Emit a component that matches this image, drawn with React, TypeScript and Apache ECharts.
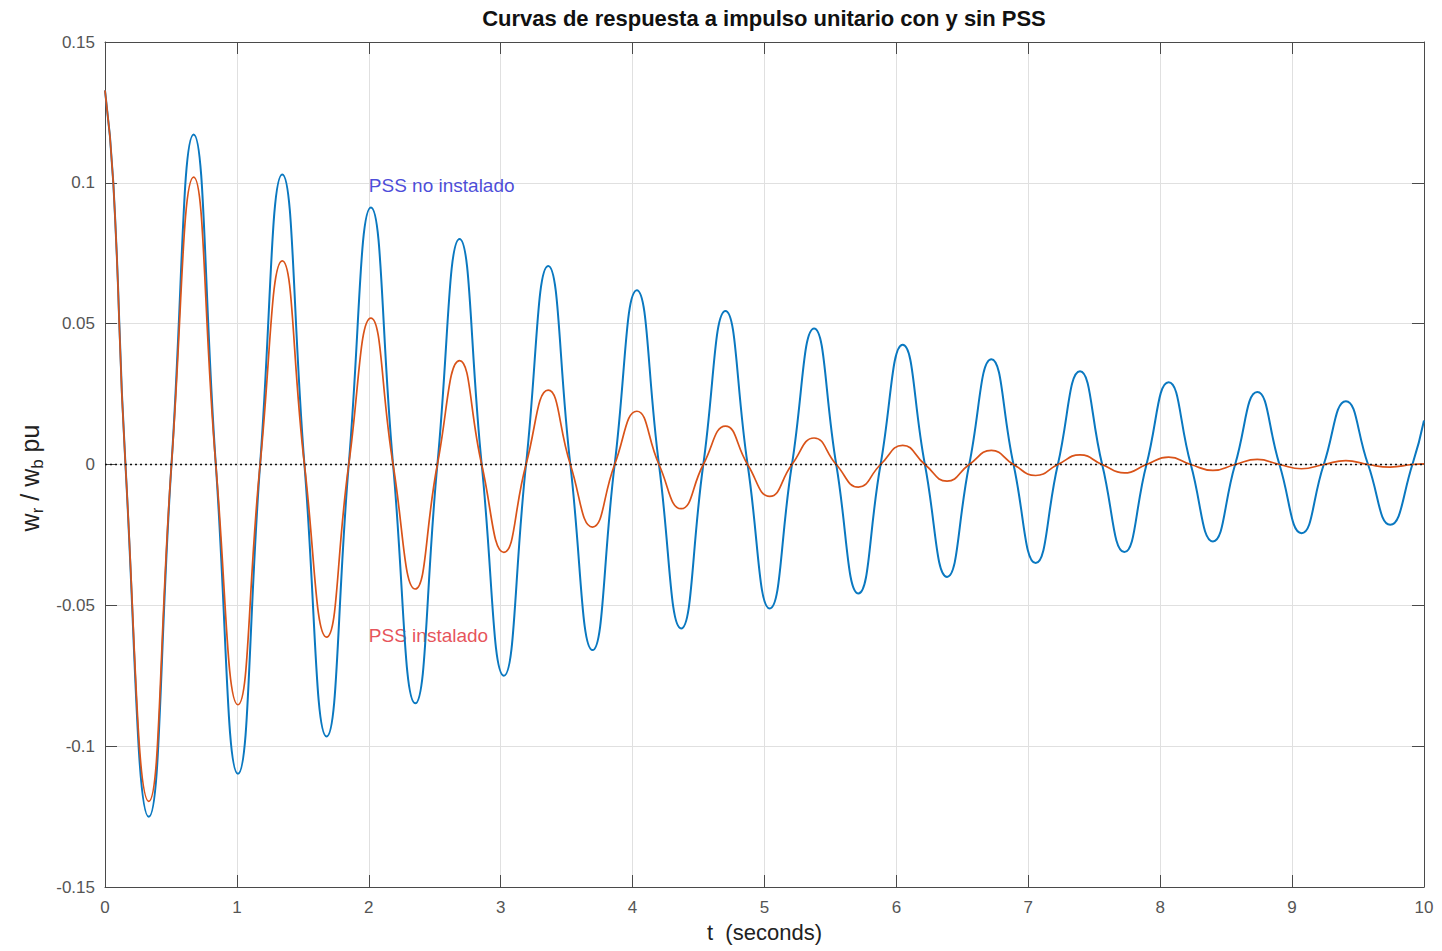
import React, { useEffect, useRef } from "react";
import * as echarts from "echarts";

// Time instants (s): start, peaks, troughs and zero crossings of the response
const timeS = [
  0, 0.063, 0.155, 0.332, 0.504, 0.672, 0.84, 1.008, 1.176, 1.344, 1.512, 1.68,
  1.848, 2.016, 2.184, 2.352, 2.52, 2.688, 2.856, 3.024, 3.192, 3.36, 3.528,
  3.696, 3.864, 4.032, 4.2, 4.368, 4.536, 4.704, 4.872, 5.04, 5.208, 5.376,
  5.544, 5.712, 5.88, 6.048, 6.216, 6.384, 6.552, 6.72, 6.888, 7.056, 7.224,
  7.392, 7.56, 7.728, 7.896, 8.064, 8.232, 8.4, 8.568, 8.736, 8.904, 9.072,
  9.24, 9.408, 9.576, 9.744, 9.912, 10,
];

// w_r / w_b (pu) without PSS
const sinPss = [
  0.1328, 0.1, 0, -0.1251, 0, 0.1172, 0, -0.1098, 0, 0.103, 0, -0.0966, 0,
  0.0912, 0, -0.0848, 0, 0.0801, 0, -0.075, 0, 0.0705, 0, -0.0659, 0, 0.0619,
  0, -0.0582, 0, 0.0545, 0, -0.0511, 0, 0.0483, 0, -0.0458, 0, 0.0425, 0,
  -0.0399, 0, 0.0374, 0, -0.035, 0, 0.0331, 0, -0.0311, 0, 0.0292, 0, -0.0273,
  0, 0.0257, 0, -0.0244, 0, 0.0225, 0, -0.0214, 0, 0.0156,
];

// w_r / w_b (pu) with PSS
const conPss = [
  0.1328, 0.1, 0, -0.1196, 0, 0.102, 0, -0.0853, 0, 0.0723, 0, -0.0613, 0,
  0.052, 0, -0.0442, 0, 0.0369, 0, -0.0312, 0, 0.0264, 0, -0.0222, 0, 0.0189,
  0, -0.0157, 0, 0.0136, 0, -0.0113, 0, 0.0094, 0, -0.008, 0, 0.0068, 0,
  -0.0059, 0, 0.005, 0, -0.0039, 0, 0.0034, 0, -0.003, 0, 0.0026, 0, -0.0021,
  0, 0.0018, 0, -0.0015, 0, 0.0014, 0, -0.0009, 0, 0.0002,
];

const xTickLabels = ["0", "1", "2", "3", "4", "5", "6", "7", "8", "9", "10"];
const yTickValues = [-0.15, -0.1, -0.05, 0, 0.05, 0.1, 0.15];
const yTickLabels = ["-0.15", "-0.1", "-0.05", "0", "0.05", "0.1", "0.15"];

// Text annotations anchored in data coordinates
const noInstaladoAt = [2, 0.1];
const instaladoAt = [2, -0.06];

const FONT = "'Liberation Sans', Arial, Helvetica, sans-serif";
const BLUE = "#0a78c0";
const ORANGE = "#d95319";
const FRAME = "#4a4a4a";
const GRID = "#e0e0e0";
const TICK_TEXT = "#555555";

export default function App() {
  const ref = useRef<HTMLDivElement>(null);

  useEffect(() => {
    if (!ref.current) return;
    const chart = echarts.init(ref.current, undefined, { renderer: "svg" });

    const yLabel = (v: number) => {
      const i = yTickValues.findIndex((t) => Math.abs(t - v) < 1e-9);
      return i >= 0 ? yTickLabels[i] : "";
    };
    const xLabel = (v: number) => xTickLabels[Math.round(v)] ?? "";

    const frameAxis = {
      axisLine: { show: true, onZero: false, lineStyle: { color: FRAME, width: 1 } },
      axisTick: { show: true, inside: true, length: 12, lineStyle: { color: FRAME, width: 1 } },
    };

    chart.setOption({
      animation: false,
      backgroundColor: "#ffffff",
      grid: { left: 105, right: 18, top: 42, bottom: 64, containLabel: false },
      graphic: [
        {
          type: "text",
          x: 764,
          y: 18,
          style: {
            text: "Curvas de respuesta a impulso unitario con y sin PSS",
            font: `bold 22px ${FONT}`,
            fill: "#111",
            align: "center",
            verticalAlign: "middle",
          },
        },
        {
          type: "text",
          x: 30,
          y: 478,
          rotation: Math.PI / 2,
          style: {
            text: "{m|w}{s|r}{m| / w}{s|b}{m| pu}",
            align: "center",
            verticalAlign: "middle",
            rich: {
              m: { fontSize: 25, fontFamily: FONT, fill: "#222", lineHeight: 32, verticalAlign: "middle" },
              s: { fontSize: 17, fontFamily: FONT, fill: "#222", lineHeight: 17, verticalAlign: "bottom" },
            },
          },
        },
      ],
      xAxis: [
        {
          type: "value",
          position: "bottom",
          min: 0,
          max: 10,
          interval: 1,
          ...frameAxis,
          axisLabel: {
            show: true,
            color: TICK_TEXT,
            fontSize: 17,
            fontFamily: FONT,
            margin: 12,
            showMinLabel: true,
            showMaxLabel: true,
            formatter: xLabel,
          },
          splitLine: { show: true, lineStyle: { color: GRID, width: 1 } },
          name: "t  (seconds)",
          nameLocation: "middle",
          nameGap: 34,
          nameTextStyle: { fontSize: 22, fontFamily: FONT, color: "#222" },
        },
        {
          type: "value",
          position: "top",
          min: 0,
          max: 10,
          interval: 1,
          ...frameAxis,
          axisLabel: { show: false },
          splitLine: { show: false },
        },
      ],
      yAxis: [
        {
          type: "value",
          position: "left",
          min: -0.15,
          max: 0.15,
          interval: 0.05,
          ...frameAxis,
          axisLabel: {
            show: true,
            color: TICK_TEXT,
            fontSize: 17,
            fontFamily: FONT,
            margin: 10,
            showMinLabel: true,
            showMaxLabel: true,
            formatter: yLabel,
          },
          splitLine: { show: true, lineStyle: { color: GRID, width: 1 } },
        },
        {
          type: "value",
          position: "right",
          min: -0.15,
          max: 0.15,
          interval: 0.05,
          ...frameAxis,
          axisLabel: { show: false },
          splitLine: { show: false },
        },
      ],
      series: [
        {
          name: "PSS no instalado (texto)",
          type: "scatter",
          xAxisIndex: 0,
          yAxisIndex: 0,
          z: 1,
          silent: true,
          symbolSize: 0,
          data: [noInstaladoAt],
          label: {
            show: true,
            position: "right",
            distance: 0,
            offset: [0, 3],
            formatter: "PSS no instalado",
            color: "#1c1cd0",
            fontSize: 19,
            fontFamily: FONT,
          },
        },
        {
          name: "PSS instalado (texto)",
          type: "scatter",
          xAxisIndex: 0,
          yAxisIndex: 0,
          z: 1,
          silent: true,
          symbolSize: 0,
          data: [instaladoAt],
          label: {
            show: true,
            position: "right",
            distance: 0,
            offset: [0, 2],
            formatter: "PSS instalado",
            color: "#e0262f",
            fontSize: 19,
            fontFamily: FONT,
          },
        },
        {
          name: "Sin PSS",
          type: "line",
          xAxisIndex: 0,
          yAxisIndex: 0,
          z: 3,
          smooth: 0.5,
          showSymbol: false,
          lineStyle: { color: BLUE, width: 2 },
          data: timeS.map((t, i) => [t, sinPss[i]]),
        },
        {
          name: "Con PSS",
          type: "line",
          xAxisIndex: 0,
          yAxisIndex: 0,
          z: 4,
          smooth: 0.5,
          showSymbol: false,
          lineStyle: { color: ORANGE, width: 1.7 },
          data: timeS.map((t, i) => [t, conPss[i]]),
          markLine: {
            silent: true,
            symbol: "none",
            label: { show: false },
            lineStyle: { color: "#111", type: [2, 3], width: 1.3 },
            data: [{ yAxis: 0 }],
          },
        },
      ],
    });

    return () => chart.dispose();
  }, []);

  return (
    <div
      ref={ref}
      style={{ position: "absolute", left: 0, top: 0, width: 1442, height: 951, background: "#fff" }}
    />
  );
}
